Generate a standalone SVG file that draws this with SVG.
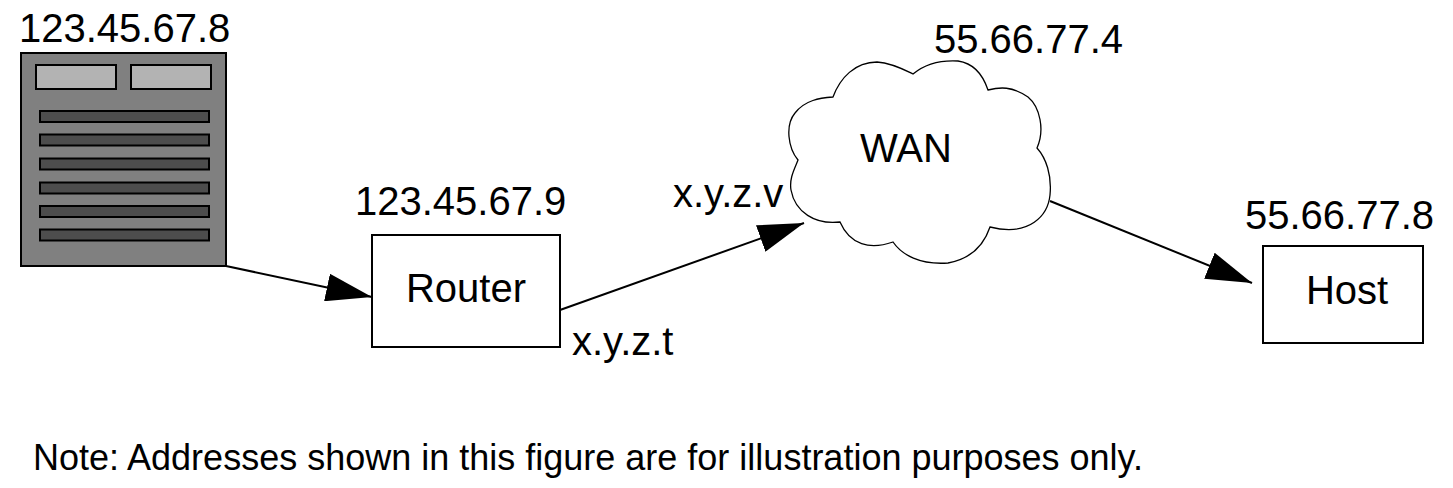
<svg xmlns="http://www.w3.org/2000/svg" width="1453" height="488" viewBox="0 0 1453 488">
<style>
text { font-family: "Liberation Sans", Arial, sans-serif; font-size: 40px; fill: #000; }
.note { font-size: 36px; }
.box { fill: #fff; stroke: #000; stroke-width: 2; }
.conn { stroke: #000; stroke-width: 2; fill: none; marker-end: url(#arrow); }
.bar { fill: #4d4d4d; stroke: #000; stroke-width: 2; }
.slot { fill: #b3b3b3; stroke: #000; stroke-width: 2; }
</style>
<defs>
<marker id="arrow" viewBox="0 0 46 28" refX="46" refY="14" markerWidth="46" markerHeight="28" markerUnits="userSpaceOnUse" orient="auto">
<path d="M0,0 L46,14 L0,28 z" fill="#000"/>
</marker>
</defs>
<rect width="1453" height="488" fill="#fff"/>
<g id="connectors">
<line class="conn" x1="226" y1="266" x2="372" y2="297"/>
<line class="conn" x1="560" y1="310" x2="804" y2="223"/>
<line class="conn" x1="1050" y1="201" x2="1252" y2="283"/>
</g>
<g id="server">
<rect x="21" y="53" width="205" height="213" fill="#808080" stroke="#000" stroke-width="2"/>
<rect class="slot" x="36" y="65" width="80" height="24"/>
<rect class="slot" x="131" y="65" width="80" height="24"/>
<rect class="bar" x="40" y="111" width="169" height="11"/>
<rect class="bar" x="40" y="134.5" width="169" height="11"/>
<rect class="bar" x="40" y="158.5" width="169" height="11"/>
<rect class="bar" x="40" y="182.5" width="169" height="11"/>
<rect class="bar" x="40" y="206" width="169" height="11"/>
<rect class="bar" x="40" y="229.5" width="169" height="11"/>
<text x="19" y="42">123.45.67.8</text>
</g>
<g id="router">
<rect class="box" x="372" y="235" width="188" height="112"/>
<text x="466" y="302" text-anchor="middle">Router</text>
<text x="355" y="215">123.45.67.9</text>
<text x="572" y="355">x.y.z.t</text>
</g>
<g id="wan">
<path d="M 833,97 C 840,78 855,62 877,62 C 892,63 905,70 913,74 C 925,64 940,60 958,61 C 972,63 982,72 988,90 C 1000,87 1012,86 1028,97 C 1040,107 1045,130 1037,148 C 1046,158 1052,175 1050,195 C 1048,215 1030,237 990,227 C 985,242 975,258 948,263 C 920,265 902,255 893,242 C 870,250 850,245 840,222 C 815,225 795,212 791,190 C 789,178 795,168 798,160 C 788,148 785,125 795,113 C 805,100 820,98 833,97 Z" fill="#fff" stroke="#000" stroke-width="1.3"/>
<text x="906" y="162" text-anchor="middle">WAN</text>
<text x="934" y="53">55.66.77.4</text>
<text x="673" y="207">x.y.z.v</text>
</g>
<g id="host">
<rect class="box" x="1263" y="246" width="160" height="97"/>
<text x="1347" y="304" text-anchor="middle">Host</text>
<text x="1245" y="229">55.66.77.8</text>
</g>
<g id="note">
<text class="note" x="33" y="470">Note: Addresses shown in this figure are for illustration purposes only.</text>
</g>
</svg>
